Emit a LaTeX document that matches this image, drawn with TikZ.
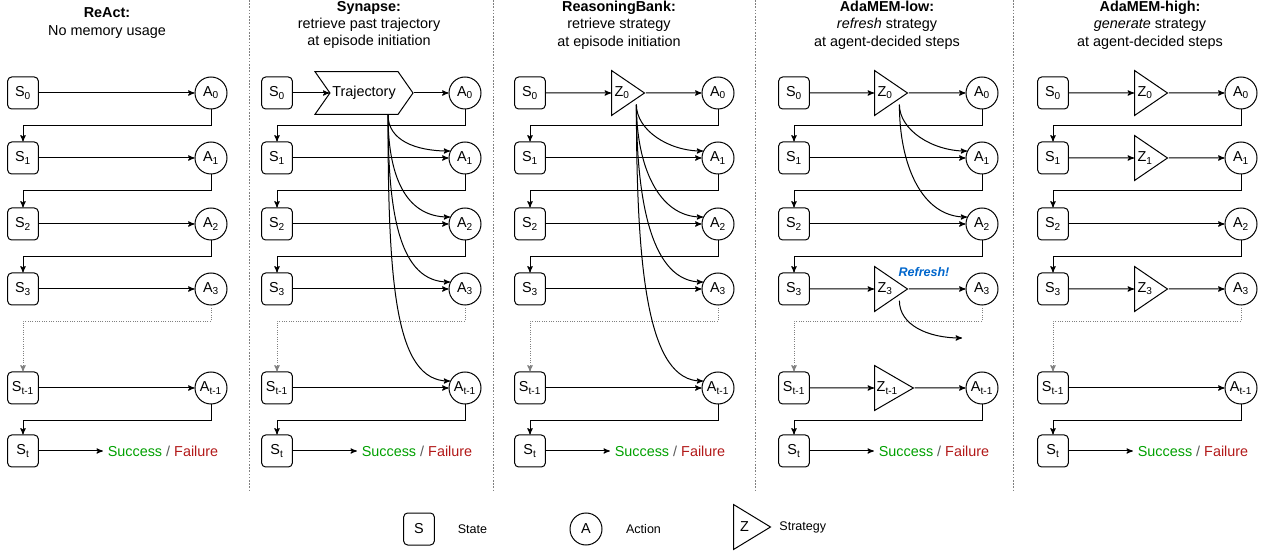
\documentclass[tikz,border=0pt]{standalone}
\usepackage{fontspec}
\setmainfont{Liberation Sans}
\usepackage{tikz}
\usetikzlibrary{arrows,positioning,calc,shapes.geometric,shapes.symbols}
\definecolor{succ}{RGB}{0,160,0}
\definecolor{fail}{RGB}{178,24,24}
\definecolor{refr}{RGB}{0,102,204}
\definecolor{slashgray}{RGB}{90,90,90}
\newcommand{\figfont}[0]{\fontsize{10.8}{13}\selectfont}
\newcommand{\keyfont}[0]{\fontsize{9.4}{11}\selectfont}

\begin{document}
\begin{tikzpicture}[->,>=stealth',x=0.75pt,y=0.75pt,line width=0.75pt,
  state/.style={draw,rounded corners=3pt,minimum width=23pt,minimum height=24pt,inner sep=0pt,font=\figfont},
  action/.style={draw,circle,minimum size=24pt,inner sep=0pt,font=\figfont},
  strategy/.style={draw,isosceles triangle,isosceles triangle stretches,shape border rotate=0,
    minimum width=33.75pt,minimum height=24.75pt,inner sep=0.5pt,font=\figfont},
  memory/.style={draw,signal,signal to=east,signal from=west,signal pointer angle=110,
    minimum width=73.5pt,minimum height=32pt,inner sep=0pt,font=\figfont},
  head/.style={align=center,font=\figfont},
  result/.style={font=\figfont},
  keytext/.style={font=\keyfont},
  gap/.style={gray,densely dotted},
  divider/.style={-,gray,dash pattern=on 1.2pt off 1.2pt,line width=0.6pt}]

  \useasboundingbox (0,0) rectangle (1265,-552);

  % panel titles
  \node[head] (h1) at (107,-23) {\textbf{ReAct:}\\No memory usage};
  \node[head] (h2) at (369,-25) {\textbf{Synapse:}\\retrieve past trajectory\\at episode initiation};
  \node[head] (h3) at (619,-25) {\textbf{ReasoningBank:}\\retrieve strategy\\at episode initiation};
  \node[head] (h4) at (887,-25) {\textbf{AdaMEM-low:}\\\textit{refresh} strategy\\at agent-decided steps};
  \node[head] (h5) at (1150,-25) {\textbf{AdaMEM-high:}\\\textit{generate} strategy\\at agent-decided steps};

  \foreach \x in {249,493,755,1013}
    \draw[divider] (\x,0) -- (\x,-492);

  % states, actions and step links of every panel
  \foreach \p/\sx in {1/23,2/277,3/530,4/794,5/1053}{
    \pgfmathsetmacro{\ax}{\sx+188}
    \foreach \r/\y/\k in {0/93/0,1/158/1,2/224/2,3/289/3,4/388/t-1}{
      \node[state] (s\p\r) at (\sx,-\y) {S\textsubscript{\k}};
      \node[action] (a\p\r) at (\ax,-\y) {A\textsubscript{\k}};
    }
    \node[state] (s\p5) at (\sx,-451) {S\textsubscript{t}};
    \node[result,right=48pt of s\p5] (r\p)
      {\textcolor{succ}{Success} \textcolor{slashgray}{/} \textcolor{fail}{Failure}};
    \path (s\p5) edge (r\p);
    \foreach \r/\n in {0/1,1/2,2/3,4/5}
      \draw (a\p\r.south) -- ++(0,-16) -| (s\p\n.north);
    \draw[gap] (a\p3.south) -- ++(0,-16) -| (s\p4.north);
  }

  % ReAct
  \foreach \r in {0,...,4}
    \path (s1\r) edge (a1\r);

  % Synapse
  \node[memory] (m20) at (364,-93) {Trajectory};
  \path (s20) edge (m20.west)
        (m20.east) edge (a20);
  \foreach \r in {1,...,4}
    \path (s2\r) edge (a2\r);
  \foreach \r/\o/\i in {1/19/26,2/45/34,3/75/38,4/128/41}
    \draw ($(m20.south)+(24,0)$) to[out=-90,in=180,out distance=\o pt,in distance=\i pt] (a2\r.155);

  % ReasoningBank
  \node[strategy,anchor=west] (z30) at (611,-93) {Z\textsubscript{0}};
  \path (s30) edge (z30)
        (z30.apex) edge (a30);
  \foreach \r in {1,...,4}
    \path (s3\r) edge (a3\r);
  \foreach \r/\o/\i in {1/19/26,2/45/34,3/75/38,4/128/41}
    \draw ($(z30.right side)+(8,0)$) to[out=-90,in=180,out distance=\o pt,in distance=\i pt] (a3\r.155);

  % AdaMEM-low
  \foreach \r/\y/\k in {0/93/0,3/289/3,4/388/t-1}{
    \node[strategy,anchor=west] (z4\r) at (874,-\y) {Z\textsubscript{\k}};
    \path (s4\r) edge (z4\r)
          (z4\r.apex) edge (a4\r);
  }
  \foreach \r in {1,2}
    \path (s4\r) edge (a4\r);
  \foreach \r/\o/\i in {1/19/26,2/45/34}
    \draw ($(z40.right side)+(8,0)$) to[out=-90,in=180,out distance=\o pt,in distance=\i pt] (a4\r.155);
  \node[font=\keyfont\bfseries\itshape,text=refr] (rf) at (924,-272) {Refresh!};
  \coordinate (n43) at (962,-338);
  \draw ($(z43.right side)+(8,0)$) to[out=-90,in=180,out distance=18pt,in distance=26pt] (n43);

  % AdaMEM-high
  \foreach \r/\y/\k in {0/93/0,1/158/1,3/289/3}{
    \node[strategy,anchor=west] (z5\r) at (1134,-\y) {Z\textsubscript{\k}};
    \path (s5\r) edge (z5\r)
          (z5\r.apex) edge (a5\r);
  }
  \foreach \r in {2,4}
    \path (s5\r) edge (a5\r);

  % legend
  \node[state] (ks) at (419,-529) {S};
  \node[keytext,right=13.5pt of ks] (kst) {State};
  \node[action] (ka) at (586,-529) {A};
  \node[keytext,right=14pt of ka] (kac) {Action};
  \node[strategy,anchor=west,minimum height=27.75pt] (kz) at (733,-527) {Z};
  \node[keytext,right=2pt of kz.apex] (kzt) {Strategy};

\end{tikzpicture}
\end{document}
